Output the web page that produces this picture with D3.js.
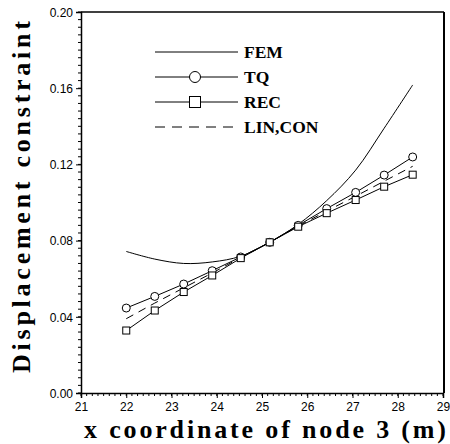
<!DOCTYPE html>
<html><head><meta charset="utf-8">
<script src="https://cdn.jsdelivr.net/npm/d3@7"></script>
<style>body{margin:0;background:#fff}svg{display:block}</style>
</head><body>
<svg id="c" width="450" height="444"></svg>
<script>
const xs = [22.0, 22.63, 23.27, 23.9, 24.53, 25.17, 25.8, 26.43, 27.07, 27.7, 28.33];
const femVals = [0.0743, 0.0703, 0.0680, 0.0688, 0.0718, 0.0791, 0.0885, 0.101, 0.117, 0.139, 0.1617];
const tqVals  = [0.0446, 0.0507, 0.0572, 0.0642, 0.0714, 0.0791, 0.0880, 0.0968, 0.1053, 0.1144, 0.1239];
const recVals = [0.0328, 0.0433, 0.0530, 0.0617, 0.0708, 0.0791, 0.0873, 0.0944, 0.1013, 0.1083, 0.1146];
const linVals = [0.0390, 0.0472, 0.0552, 0.0630, 0.0711, 0.0791, 0.0876, 0.0955, 0.1033, 0.1112, 0.1190];
const xTicks = [21,22,23,24,25,26,27,28,29];
const yTicks = [0.00,0.04,0.08,0.12,0.16,0.20];
const legendLabels = ["FEM","TQ","REC","LIN,CON"];

const svg = d3.select("#c");
const L=81, R=443, T=12, B=393;
const x = d3.scaleLinear().domain([21,29]).range([L,R]);
const y = d3.scaleLinear().domain([0,0.2]).range([B,T]);
const serif = "'Liberation Serif','DejaVu Serif',serif";
const sans = "'Liberation Sans',Arial,sans-serif";

// frame top/right
svg.append("line").attr("x1",L).attr("x2",R+1).attr("y1",T).attr("y2",T).attr("stroke","#000").attr("stroke-width",1.5);
svg.append("line").attr("x1",R+1).attr("x2",R+1).attr("y1",T).attr("y2",B).attr("stroke","#000").attr("stroke-width",2);

// minor ticks
const xMinor = d3.range(21,29.0001,0.125);
const yMinor = d3.range(0,0.20001,0.004);
const ax = svg.append("g");
ax.selectAll(".xm").data(xMinor).join("line").attr("x1",d=>x(d)).attr("x2",d=>x(d)).attr("y1",B).attr("y2",B+3).attr("stroke","#000");
ax.selectAll(".ym").data(yMinor).join("line").attr("x1",L-3).attr("x2",L).attr("y1",d=>y(d)).attr("y2",d=>y(d)).attr("stroke","#000");

const xAxis = d3.axisBottom(x).tickValues(xTicks).tickFormat(d3.format("d")).tickSize(5).tickPadding(4);
const yAxis = d3.axisLeft(y).tickValues(yTicks).tickFormat(d3.format(".2f")).tickSize(5).tickPadding(3);
const gx = svg.append("g").attr("transform",`translate(0,${B})`).call(xAxis);
const gy = svg.append("g").attr("transform",`translate(${L},0)`).call(yAxis);
[gx,gy].forEach(g=>{
  g.select(".domain").attr("stroke","#000").attr("stroke-width",1.5);
  g.selectAll("text").attr("font-family",sans).attr("font-size",12).attr("fill","#000");
});
gy.selectAll("text").attr("dy","0.35em");

// lines
const line = d3.line().x(d=>x(d[0])).y(d=>y(d[1]));
const femLine = d3.line().x(d=>x(d[0])).y(d=>y(d[1])).curve(d3.curveCatmullRom);
const zip = v => xs.map((a,i)=>[a,v[i]]);
const plot = svg.append("g");
plot.append("path").attr("d",femLine(zip(femVals))).attr("fill","none").attr("stroke","#000").attr("stroke-width",1);
plot.append("path").attr("d",line(zip(linVals))).attr("fill","none").attr("stroke","#000").attr("stroke-width",1).attr("stroke-dasharray","8,6");
plot.append("path").attr("d",line(zip(tqVals))).attr("fill","none").attr("stroke","#000").attr("stroke-width",1);
plot.append("path").attr("d",line(zip(recVals))).attr("fill","none").attr("stroke","#000").attr("stroke-width",1);
plot.selectAll(".c").data(zip(tqVals)).join("circle").attr("cx",d=>x(d[0])).attr("cy",d=>y(d[1])).attr("r",4).attr("fill","#fff").attr("stroke","#000").attr("stroke-width",1);
plot.selectAll(".s").data(zip(recVals)).join("rect").attr("x",d=>x(d[0])-3.5).attr("y",d=>y(d[1])-3.5).attr("width",7).attr("height",7).attr("fill","#fff").attr("stroke","#000").attr("stroke-width",1);

// legend
const lg = svg.append("g");
const ly = [52,77,102,127];
legendLabels.forEach((lab,i)=>{
  const yy = ly[i];
  const ln = lg.append("line").attr("x1",155).attr("x2",238).attr("y1",yy).attr("y2",yy).attr("stroke","#000").attr("stroke-width",1);
  if(i===3) ln.attr("stroke-dasharray","10,7");
  if(i===1) lg.append("circle").attr("cx",195).attr("cy",yy).attr("r",5.5).attr("fill","#fff").attr("stroke","#000");
  if(i===2) lg.append("rect").attr("x",189.5).attr("y",yy-5.5).attr("width",11).attr("height",11).attr("fill","#fff").attr("stroke","#000");
  lg.append("text").attr("x",244).attr("y",yy).attr("dy","0.35em").attr("font-family",serif).attr("font-weight","bold").attr("font-size",17.5).text(lab);
});

// axis titles
svg.append("text").attr("x",265).attr("y",438).attr("text-anchor","middle").attr("font-family",serif).attr("font-weight","bold").attr("font-size",26)
  .attr("textLength",362).attr("lengthAdjust","spacing").text("x coordinate of node 3 (m)");
svg.append("text").attr("transform","translate(30,197) rotate(-90)").attr("text-anchor","middle").attr("font-family",serif).attr("font-weight","bold").attr("font-size",26)
  .attr("textLength",352).attr("lengthAdjust","spacing").text("Displacement constraint");
</script>
</body></html>
